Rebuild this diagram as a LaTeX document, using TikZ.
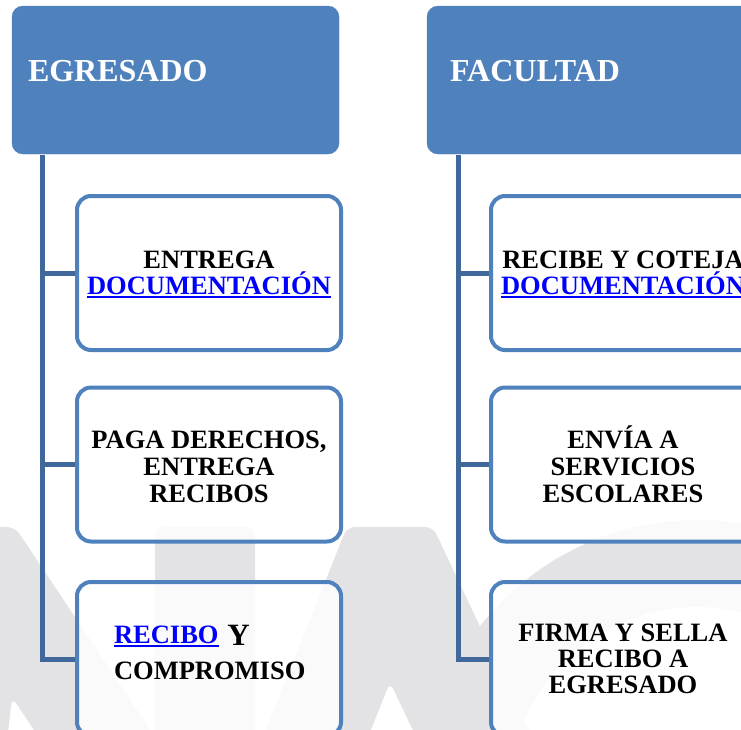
\documentclass[tikz,border=0pt]{standalone}
\usepackage{fontspec}
\setmainfont{Liberation Serif}
\usetikzlibrary{calc}
\definecolor{hdr}{HTML}{4F81BD}
\definecolor{bxc}{HTML}{4F81BD}
\definecolor{treec}{HTML}{41689B}
\definecolor{wm}{HTML}{E3E3E6}
\definecolor{lnkblue}{HTML}{0000FF}
\newcommand\lnk[1]{{\color{lnkblue}\setbox0\hbox{#1}\rlap{\rule[-3.5pt]{\wd0}{2pt}}\box0}}
\pgfdeclarelayer{wmark}
\pgfdeclarelayer{bg}
\pgfsetlayers{wmark,bg,main}
\begin{document}
\begin{tikzpicture}[x=1pt,y=-1pt,
  hdrbox/.style={fill=hdr, draw=hdr, rounded corners=11pt, minimum width=327pt, minimum height=148pt,
    inner sep=0pt, text=white, font=\fontsize{32}{34}\selectfont\bfseries, align=left,
    text height=50pt, text depth=48pt},
  stepbox/.style={draw=bxc, line width=4pt, rounded corners=14pt, fill=white, fill opacity=0.85,
    text opacity=1, minimum width=264pt, minimum height=154pt, inner sep=0pt,
    font=\fontsize{26.5}{26}\selectfont\bfseries, align=center},
  tree/.style={draw=treec, line width=5pt}]
\useasboundingbox (0,0) rectangle (741,729);
\clip (0,0) rectangle (741,729);
% watermark
\begin{pgfonlayer}{wmark}
\fill[white] (0,0) rectangle (741,729);
\fill[wm, rounded corners=8pt] (-100,527) -- (15,527) -- (155,737) -- (155,760) -- (54,760) -- (12,697) -- (5,760) -- (-100,760) -- cycle;
\fill[wm, rounded corners=10pt] (155,760) -- (155,527) -- (255,527) -- (255,760) -- cycle;
\fill[wm, rounded corners=8pt] (254,760) -- (347,527) -- (433,527) -- (543,760) -- (427,760) -- (390,682) -- (359,760) -- cycle;
\fill[wm, even odd rule] (698,797) circle[radius=277] (698,797) circle[radius=190];
\end{pgfonlayer}
% headers
\node[hdrbox, text width=295pt] (hE) at (175.5,80) {EGRESADO};
\node[hdrbox, text width=281pt] (hF) at (590.5,80) {FACULTAD};
% left column
\node[stepbox, text depth=0pt] (e1) at (209,273) {ENTREGA\\\lnk{DOCUMENTACIÓN}};
\node[stepbox, font=\fontsize{26.5}{27}\selectfont\bfseries, text height=77pt] (e2) at (209,464.5) {PAGA DERECHOS,\\ENTREGA\\RECIBOS};
\node[stepbox, align=left, text width=190pt, text depth=49pt] (e3) at (209,659) {\lnk{RECIBO} \raisebox{-2.5pt}{\fontsize{31}{31}\selectfont Y}\\[10pt]COMPROMISO};
% right column
\node[stepbox, text depth=0pt] (f1) at (623,273) {RECIBE Y COTEJA\\\lnk{DOCUMENTACIÓN}};
\node[stepbox, font=\fontsize{26.5}{27}\selectfont\bfseries, text height=77pt] (f2) at (623,464.5) {ENVÍA A\\SERVICIOS\\ESCOLARES};
\node[stepbox] (f3) at (623,659) {FIRMA Y SELLA\\RECIBO A\\EGRESADO};
% connectors
\coordinate (sE) at (42.5,155);
\coordinate (sF) at (458,155);
\begin{pgfonlayer}{bg}
\draw[tree] (sE) |- (e3.west);
\draw[tree] (sE |- e1.west) -- (e1.west);
\draw[tree] (sE |- e2.west) -- (e2.west);
\draw[tree] (sF) |- (f3.west);
\draw[tree] (sF |- f1.west) -- (f1.west);
\draw[tree] (sF |- f2.west) -- (f2.west);
\end{pgfonlayer}
\end{tikzpicture}
\end{document}
